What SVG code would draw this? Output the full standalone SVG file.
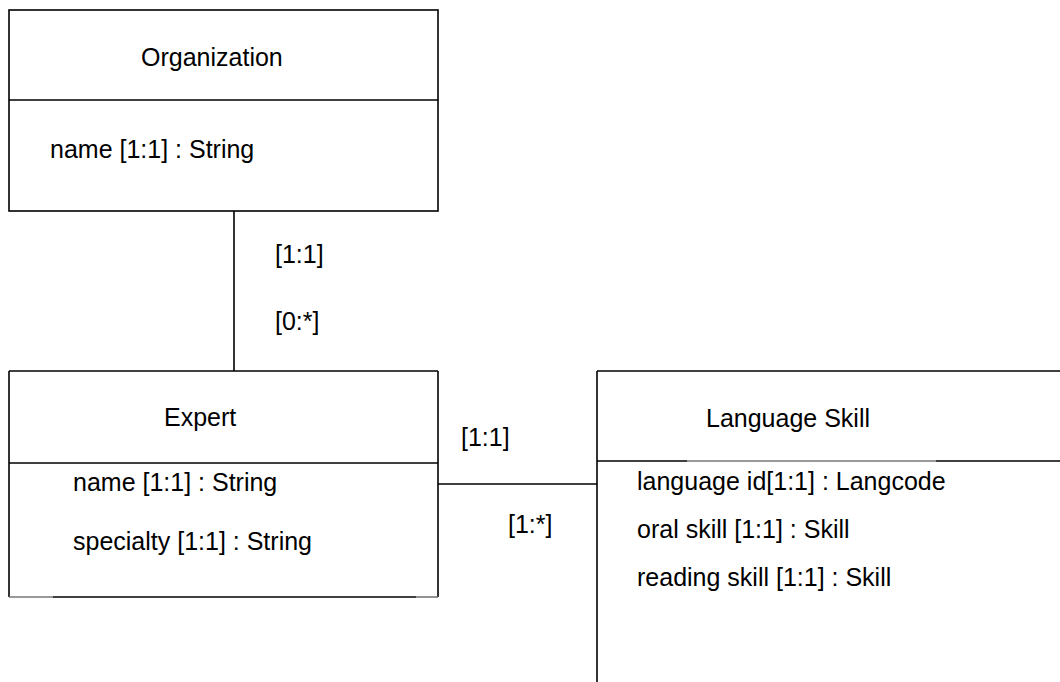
<svg xmlns="http://www.w3.org/2000/svg" width="1060" height="682" viewBox="0 0 1060 682">
<style>
.ln{stroke:#000;stroke-width:1.6;fill:none}
.lt{stroke:#777;stroke-width:1.6;fill:none}
.t{font-family:"Liberation Sans",Arial,sans-serif;font-size:25px;fill:#000}
</style>
<rect width="1060" height="682" fill="#fff"/>
<g id="connectors">
<line class="ln" x1="234" y1="211" x2="234" y2="371"/>
<line class="ln" x1="438" y1="484" x2="597" y2="484"/>
<text class="t" x="275" y="263">[1:1]</text>
<text class="t" x="275" y="330">[0:*]</text>
<text class="t" x="461" y="446">[1:1]</text>
<text class="t" x="508" y="533">[1:*]</text>
</g>
<g id="organization">
<rect class="ln" x="9" y="10" width="429" height="201"/>
<line class="ln" x1="9" y1="100" x2="438" y2="100"/>
<text class="t" x="141" y="66">Organization</text>
<text class="t" x="50" y="158">name [1:1] : String</text>
</g>
<g id="expert">
<line class="ln" x1="9" y1="371" x2="438" y2="371"/>
<line class="ln" x1="9" y1="371" x2="9" y2="597"/>
<line class="ln" x1="438" y1="371" x2="438" y2="597"/>
<line class="ln" x1="9" y1="463" x2="438" y2="463"/>
<line class="lt" x1="9" y1="597" x2="53" y2="597"/>
<line class="ln" x1="53" y1="597" x2="416" y2="597"/>
<line class="lt" x1="416" y1="597" x2="438" y2="597"/>
<text class="t" x="164" y="426">Expert</text>
<text class="t" x="73" y="491">name [1:1] : String</text>
<text class="t" x="73" y="550">specialty [1:1] : String</text>
</g>
<g id="language-skill">
<line class="ln" x1="597" y1="371" x2="1060" y2="371"/>
<line class="ln" x1="597" y1="371" x2="597" y2="682"/>
<line class="ln" x1="597" y1="461" x2="687" y2="461"/>
<line class="lt" x1="687" y1="461" x2="936" y2="461"/>
<line class="ln" x1="936" y1="461" x2="1060" y2="461"/>
<text class="t" x="706" y="427">Language Skill</text>
<text class="t" x="637" y="490">language id[1:1] : Langcode</text>
<text class="t" x="637" y="538">oral skill [1:1] : Skill</text>
<text class="t" x="637" y="586">reading skill [1:1] : Skill</text>
</g>
</svg>
